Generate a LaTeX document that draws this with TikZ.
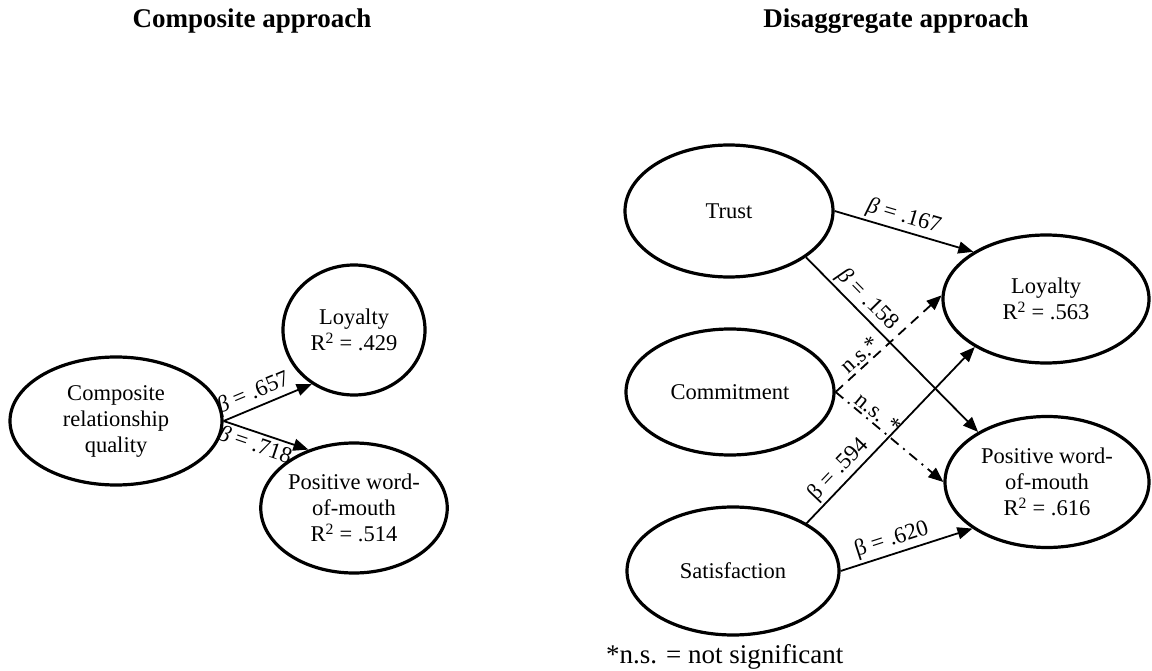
\documentclass[tikz,border=0pt]{standalone}
\usepackage{fontspec}
\setmainfont{Liberation Serif}
\usetikzlibrary{shapes.geometric,arrows.meta}
\begin{document}
\begin{tikzpicture}[x=1pt,y=-1pt,
 el/.style={ellipse,draw,line width=3.2pt,inner sep=0pt,align=center,font=\fontsize{22.5}{26}\selectfont},
 arr/.style={line width=1.8pt,-{Triangle[length=15pt,width=12pt]}},
 dsh/.style={arr,dash pattern=on 10pt off 7pt},
 dshdot/.style={arr,dash pattern=on 10pt off 6pt on 2pt off 6pt},
 lab/.style={font=\fontsize{23}{26}\selectfont,sloped,inner sep=2.5pt},
 ttl/.style={font=\fontsize{27}{30}\selectfont\bfseries}]
\useasboundingbox (0,0) rectangle (1152,671);
% titles
\node[ttl] (t1) at (252,21) {Composite approach};
\node[ttl] (t2) at (896,21) {Disaggregate approach};
% left
\node[el,minimum width=212pt,minimum height=128pt] (comp) at (116,421) {Composite\\relationship\\quality};
\node[el,minimum width=142pt,minimum height=130pt] (loyL) at (354,330) {Loyalty\\R\textsuperscript{2} = .429};
\node[el,minimum width=142pt,minimum height=130pt] (pwomL) at (354,508) {Positive word-\\of-mouth\\R\textsuperscript{2} = .514};
% right
\node[el,minimum width=208pt,minimum height=132pt] (trust) at (729,211) {Trust};
\node[el,minimum width=208pt,minimum height=126pt] (commit) at (730,392) {Commitment};
\node[el,minimum width=212pt,minimum height=128pt] (satis) at (733,571) {Satisfaction};
\node[el,minimum width=206pt,minimum height=128pt] (loyR) at (1046,299) {Loyalty\\R\textsuperscript{2} = .563};
\node[el,minimum width=204pt,minimum height=131pt] (pwomR) at (1047,482) {Positive word-\\of-mouth\\R\textsuperscript{2} = .616};
% left arrows
\draw[arr] (comp.east) -- (loyL.232) node[lab,pos=0.4,above] {\textit{β} = .657};
\draw[arr] (comp.east) -- (pwomL.128) node[lab,pos=0.42,below] {\textit{β} = .718};
% right arrows
\draw[arr] (trust.east) -- (loyR.147) node[lab,pos=0.47,above] {\textit{β} = .167};
\draw[arr] (trust.-31) -- (pwomR.144) node[lab,pos=0.3,above] {\textit{β} = .158};
\draw[dsh] (commit.east) -- (loyR.178) node[lab,pos=0.3,above] {n.s.*};
\draw[dshdot] (commit.east) -- (pwomR.west) node[lab,pos=0.33,above] {n.s. *};
\draw[arr] (satis.33) -- (loyR.214) node[lab,pos=0.25,above] {β = .594};
\draw[arr] (satis.east) -- (pwomR.212) node[lab,pos=0.42,above] {β = .620};
% footnote
\node[font=\fontsize{27}{30}\selectfont,anchor=base west,inner sep=0pt] (fn) at (606,663) {*n.s. = not significant};
\end{tikzpicture}
\end{document}
